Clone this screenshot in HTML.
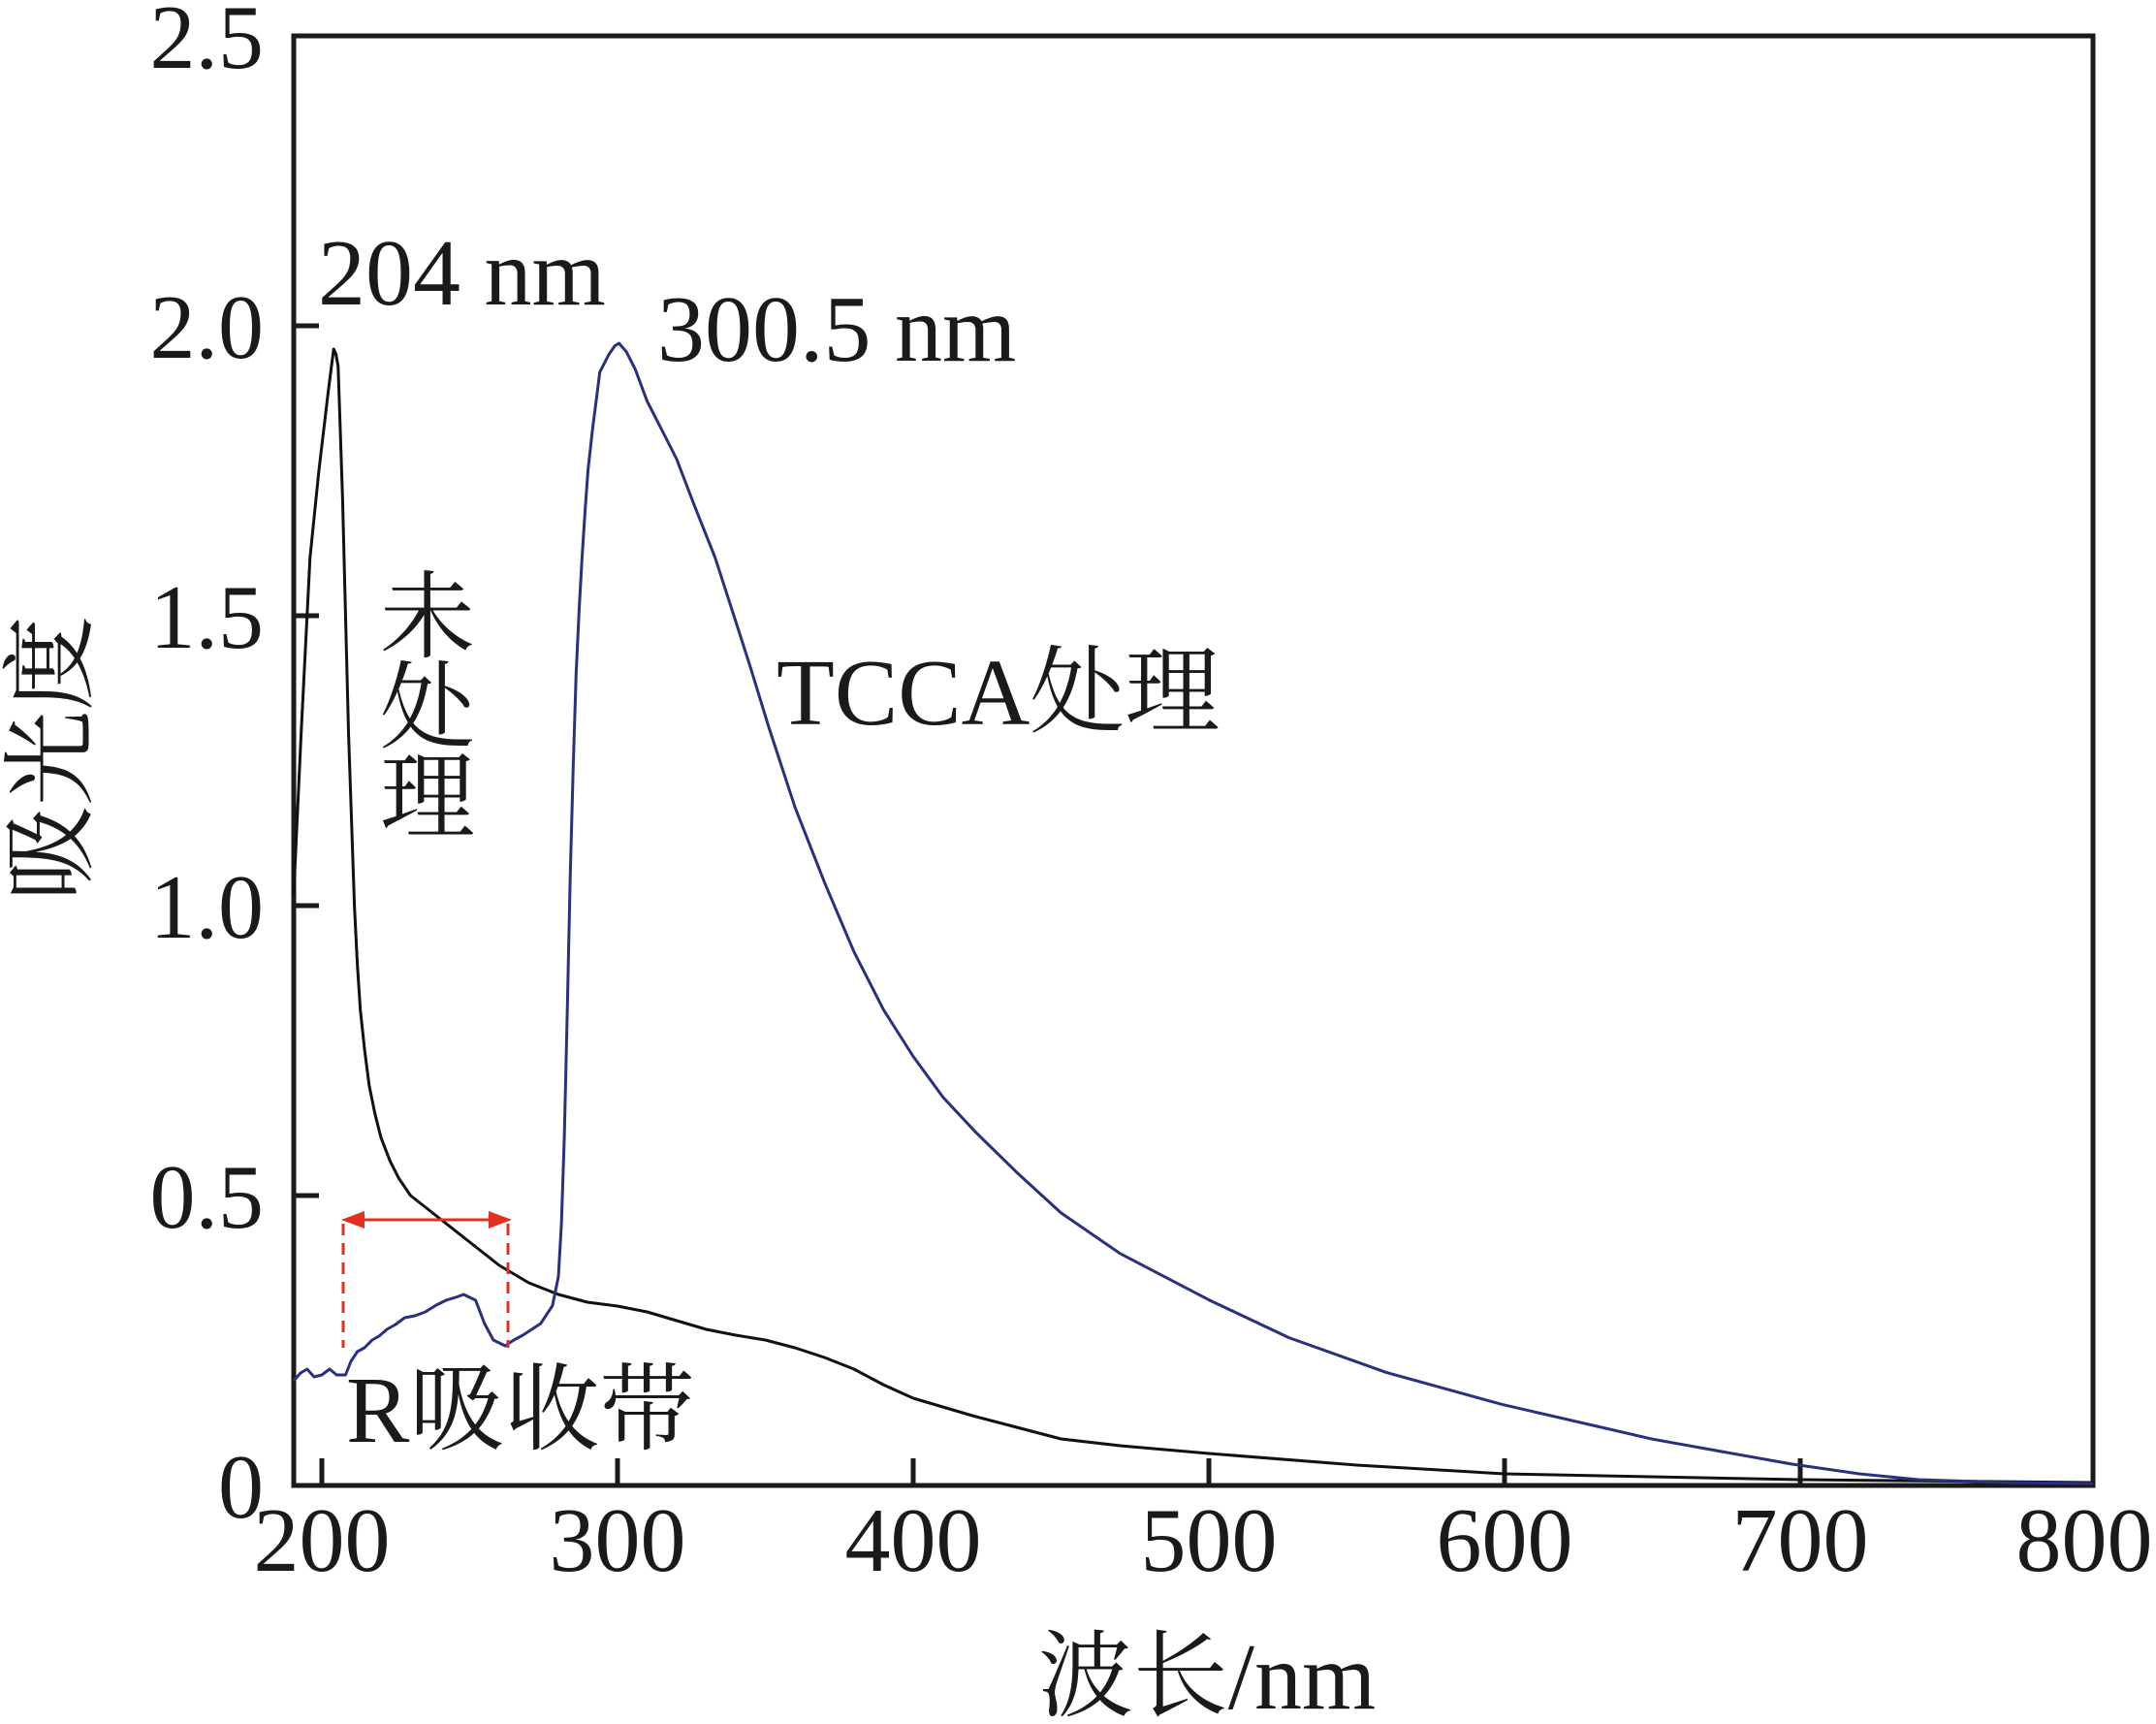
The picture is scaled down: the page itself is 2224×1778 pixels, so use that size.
<!DOCTYPE html>
<html><head><style>body{margin:0;background:#fff}svg{display:block}</style></head><body>
<svg width="2224" height="1778" xmlns="http://www.w3.org/2000/svg" font-family="Liberation Serif, Noto Serif CJK SC, serif">
<rect width="2224" height="1778" fill="#fff"/>
<g stroke="#1a1a1a" stroke-width="5" fill="none">
<rect x="303" y="37" width="1856" height="1495"/>
<path d="M332 1532v-28M637 1532v-28M942 1532v-28M1247 1532v-28M1552 1532v-28M1857 1532v-28M303 1233h26M303 934h26M303 635h26M303 336h26"/>
</g>
<g font-size="94" fill="#1a1a1a" text-anchor="end">
<text x="272" y="1565">0</text><text x="272" y="1266">0.5</text><text x="272" y="967">1.0</text><text x="272" y="668">1.5</text><text x="272" y="369">2.0</text><text x="272" y="70">2.5</text>
</g>
<g font-size="94" fill="#1a1a1a" text-anchor="middle">
<text x="332" y="1620">200</text><text x="637" y="1620">300</text><text x="942" y="1620">400</text><text x="1247" y="1620">500</text><text x="1552" y="1620">600</text><text x="1857" y="1620">700</text><text x="2150" y="1620">800</text>
</g>
<polyline fill="none" stroke="#111" stroke-width="3" stroke-linejoin="round" points="303,922 310.7,755 319.8,575 329,485 338.1,408 341,385 344.2,360 346.5,365 348.8,378 353.4,515 359.5,755 365.6,934 368.6,994 371.7,1041.6 376.2,1083.5 380.8,1119.4 386.9,1149.3 393,1173.2 402.2,1197.1 411.3,1215.1 423.5,1233 438.8,1245 454,1257 484.5,1281 515,1305 545.5,1323 576,1335 606,1343 637,1347 667.5,1353 698,1362 728.5,1371 759,1377 789.5,1382 820,1390 850.5,1400 881,1412 911,1428 942,1442 972.5,1451 1003,1460 1048.8,1472 1094.5,1484 1155.5,1491 1247,1499 1399.5,1511 1552,1520 1857,1526 2159,1529"/>
<polyline fill="none" stroke="#2a3080" stroke-width="3" stroke-linejoin="round" points="303,1424 310,1416 316.8,1412 324,1420 332,1418 340,1412 347.3,1418 356.4,1418 362,1404 368.6,1394 376,1390 383.9,1382 391,1378 399.1,1371 408,1366 417.4,1359 428,1357 438.8,1353 450,1346 460.1,1341 470,1338 478.4,1335 490.6,1341 499.8,1365 508.9,1382 521.1,1388 530,1382 539.4,1377 557.7,1365 569.9,1346.6 576,1316.7 579.1,1262.9 582.1,1173.2 585.2,1041.6 588.2,904.1 591.3,790.5 594.3,694.8 597.4,629 600.4,575.2 603.5,527.4 606.5,485.5 611.1,443.6 615.7,407.8 618.7,383.8 627.9,365.9 634,356.9 638.5,354 646.2,362.9 655.3,380.9 667.5,413.7 682.8,443.6 698,473.5 716.3,521.4 737.7,575.2 759,641 774.3,688.8 792.6,748.6 820,832.3 850.5,910.1 881,981.8 911.5,1041.6 942,1089.5 972.5,1131.3 1006,1167.2 1048.8,1209.1 1094.5,1250.9 1155.5,1292.8 1247,1340.6 1329.4,1379.5 1430,1415.4 1549,1448.3 1704.5,1484.2 1847.9,1509.9 1918,1520 1979,1526 2070.5,1529 2159,1530"/>
<g stroke="#e03020" stroke-width="3" fill="none">
<path d="M354 1262V1390M524 1262V1390" stroke-dasharray="12,8"/>
<path d="M365 1258H514"/>
</g>
<path d="M352 1258l24-9v18zM528 1258l-24-9v18z" fill="#e03020"/>
<g fill="#1a1a1a" font-size="98">
<text x="328" y="314">204 nm</text>
<text x="678" y="372">300.5 nm</text>
<text x="801" y="747">TCCA处理</text>
<text x="357" y="1487">R吸收带</text>
<text x="392" y="670">未</text><text x="392" y="763">处</text><text x="392" y="856">理</text>
<text x="1245" y="1762" text-anchor="middle">波长/nm</text>
<text transform="translate(86,782) rotate(-90)" text-anchor="middle">吸光度</text>
</g>
</svg>
</body></html>
